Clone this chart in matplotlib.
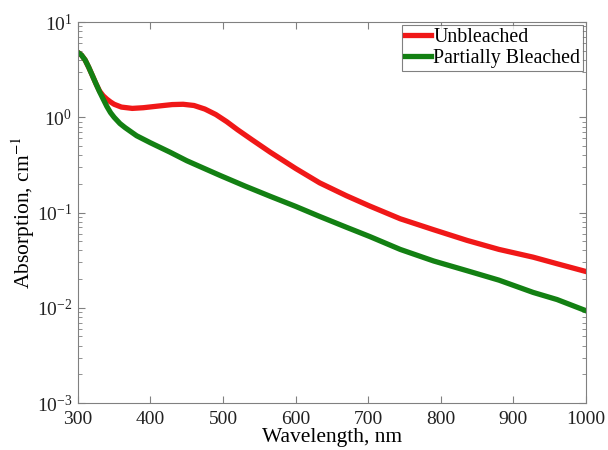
import matplotlib
matplotlib.use('Agg')
import matplotlib.pyplot as plt
import numpy as np

# Dados (comprimento de onda em nm, absorção em cm^-1)
wl_red = [300, 305, 310, 315, 320, 325, 330, 335, 340, 345, 350, 360, 375, 390, 410, 430, 445, 460, 475, 490,
          505, 520, 540, 565, 600, 633, 670, 702, 744, 790, 836, 880, 927, 960, 1000]
abs_red = [4.8, 4.5, 4.0, 3.35, 2.75, 2.25, 1.88, 1.68, 1.55, 1.45, 1.37, 1.28, 1.24, 1.26, 1.31, 1.36, 1.37, 1.33, 1.22, 1.07,
           0.90, 0.74, 0.58, 0.43, 0.29, 0.205, 0.15, 0.117, 0.086, 0.066, 0.051, 0.041, 0.034, 0.029, 0.024]

wl_green = [300, 305, 310, 315, 320, 325, 330, 335, 340, 345, 350, 358, 365, 381, 400, 427, 450, 472, 496, 530, 565,
            600, 633, 670, 702, 744, 790, 836, 880, 927, 960, 1000]
abs_green = [4.8, 4.5, 4.0, 3.35, 2.75, 2.25, 1.85, 1.55, 1.3, 1.12, 1.0, 0.86, 0.78, 0.64, 0.54, 0.43, 0.35, 0.295, 0.245, 0.19, 0.148,
             0.116, 0.091, 0.070, 0.056, 0.041, 0.031, 0.0245, 0.0195, 0.0145, 0.0122, 0.0093]

labels = ['Unbleached', 'Partially Bleached']

plt.rcParams['font.family'] = ['Liberation Serif', 'DejaVu Serif']
plt.rcParams['mathtext.fontset'] = 'stix'

fig = plt.figure(figsize=(6.08, 4.5), dpi=100)
ax = fig.add_axes([0.128, 0.1044, 0.836, 0.8466])

ax.plot(wl_red, abs_red, color='#f01818', lw=3.8, label=labels[0])
ax.plot(wl_green, abs_green, color='#138013', lw=3.8, label=labels[1])

ax.set_yscale('log')
ax.set_xlim(300, 1000)
ax.set_ylim(1e-3, 1e1)
ax.set_xticks(range(300, 1001, 100))

for s in ax.spines.values():
    s.set_color('#808080')
ax.tick_params(which='both', direction='in', top=True, right=True, color='#808080',
               labelsize=14, labelcolor='#222222')
ax.tick_params(which='major', length=5)
ax.tick_params(which='minor', length=3)
ax.tick_params(axis='x', pad=6)
ax.tick_params(axis='y', pad=4)

ax.set_xlabel('Wavelength, nm', fontsize=15.5, labelpad=0)
ax.set_ylabel('Absorption, cm$^{-1}$', fontsize=15.5, labelpad=0)

leg = ax.legend(loc='upper right', fontsize=14.3, handlelength=1.3, handletextpad=0.1,
                borderpad=0.15, labelspacing=0.1, borderaxespad=0.15, fancybox=False)
leg.get_frame().set_edgecolor('#606060')
leg.get_frame().set_linewidth(0.8)

fig.savefig('out.png', dpi=100)
